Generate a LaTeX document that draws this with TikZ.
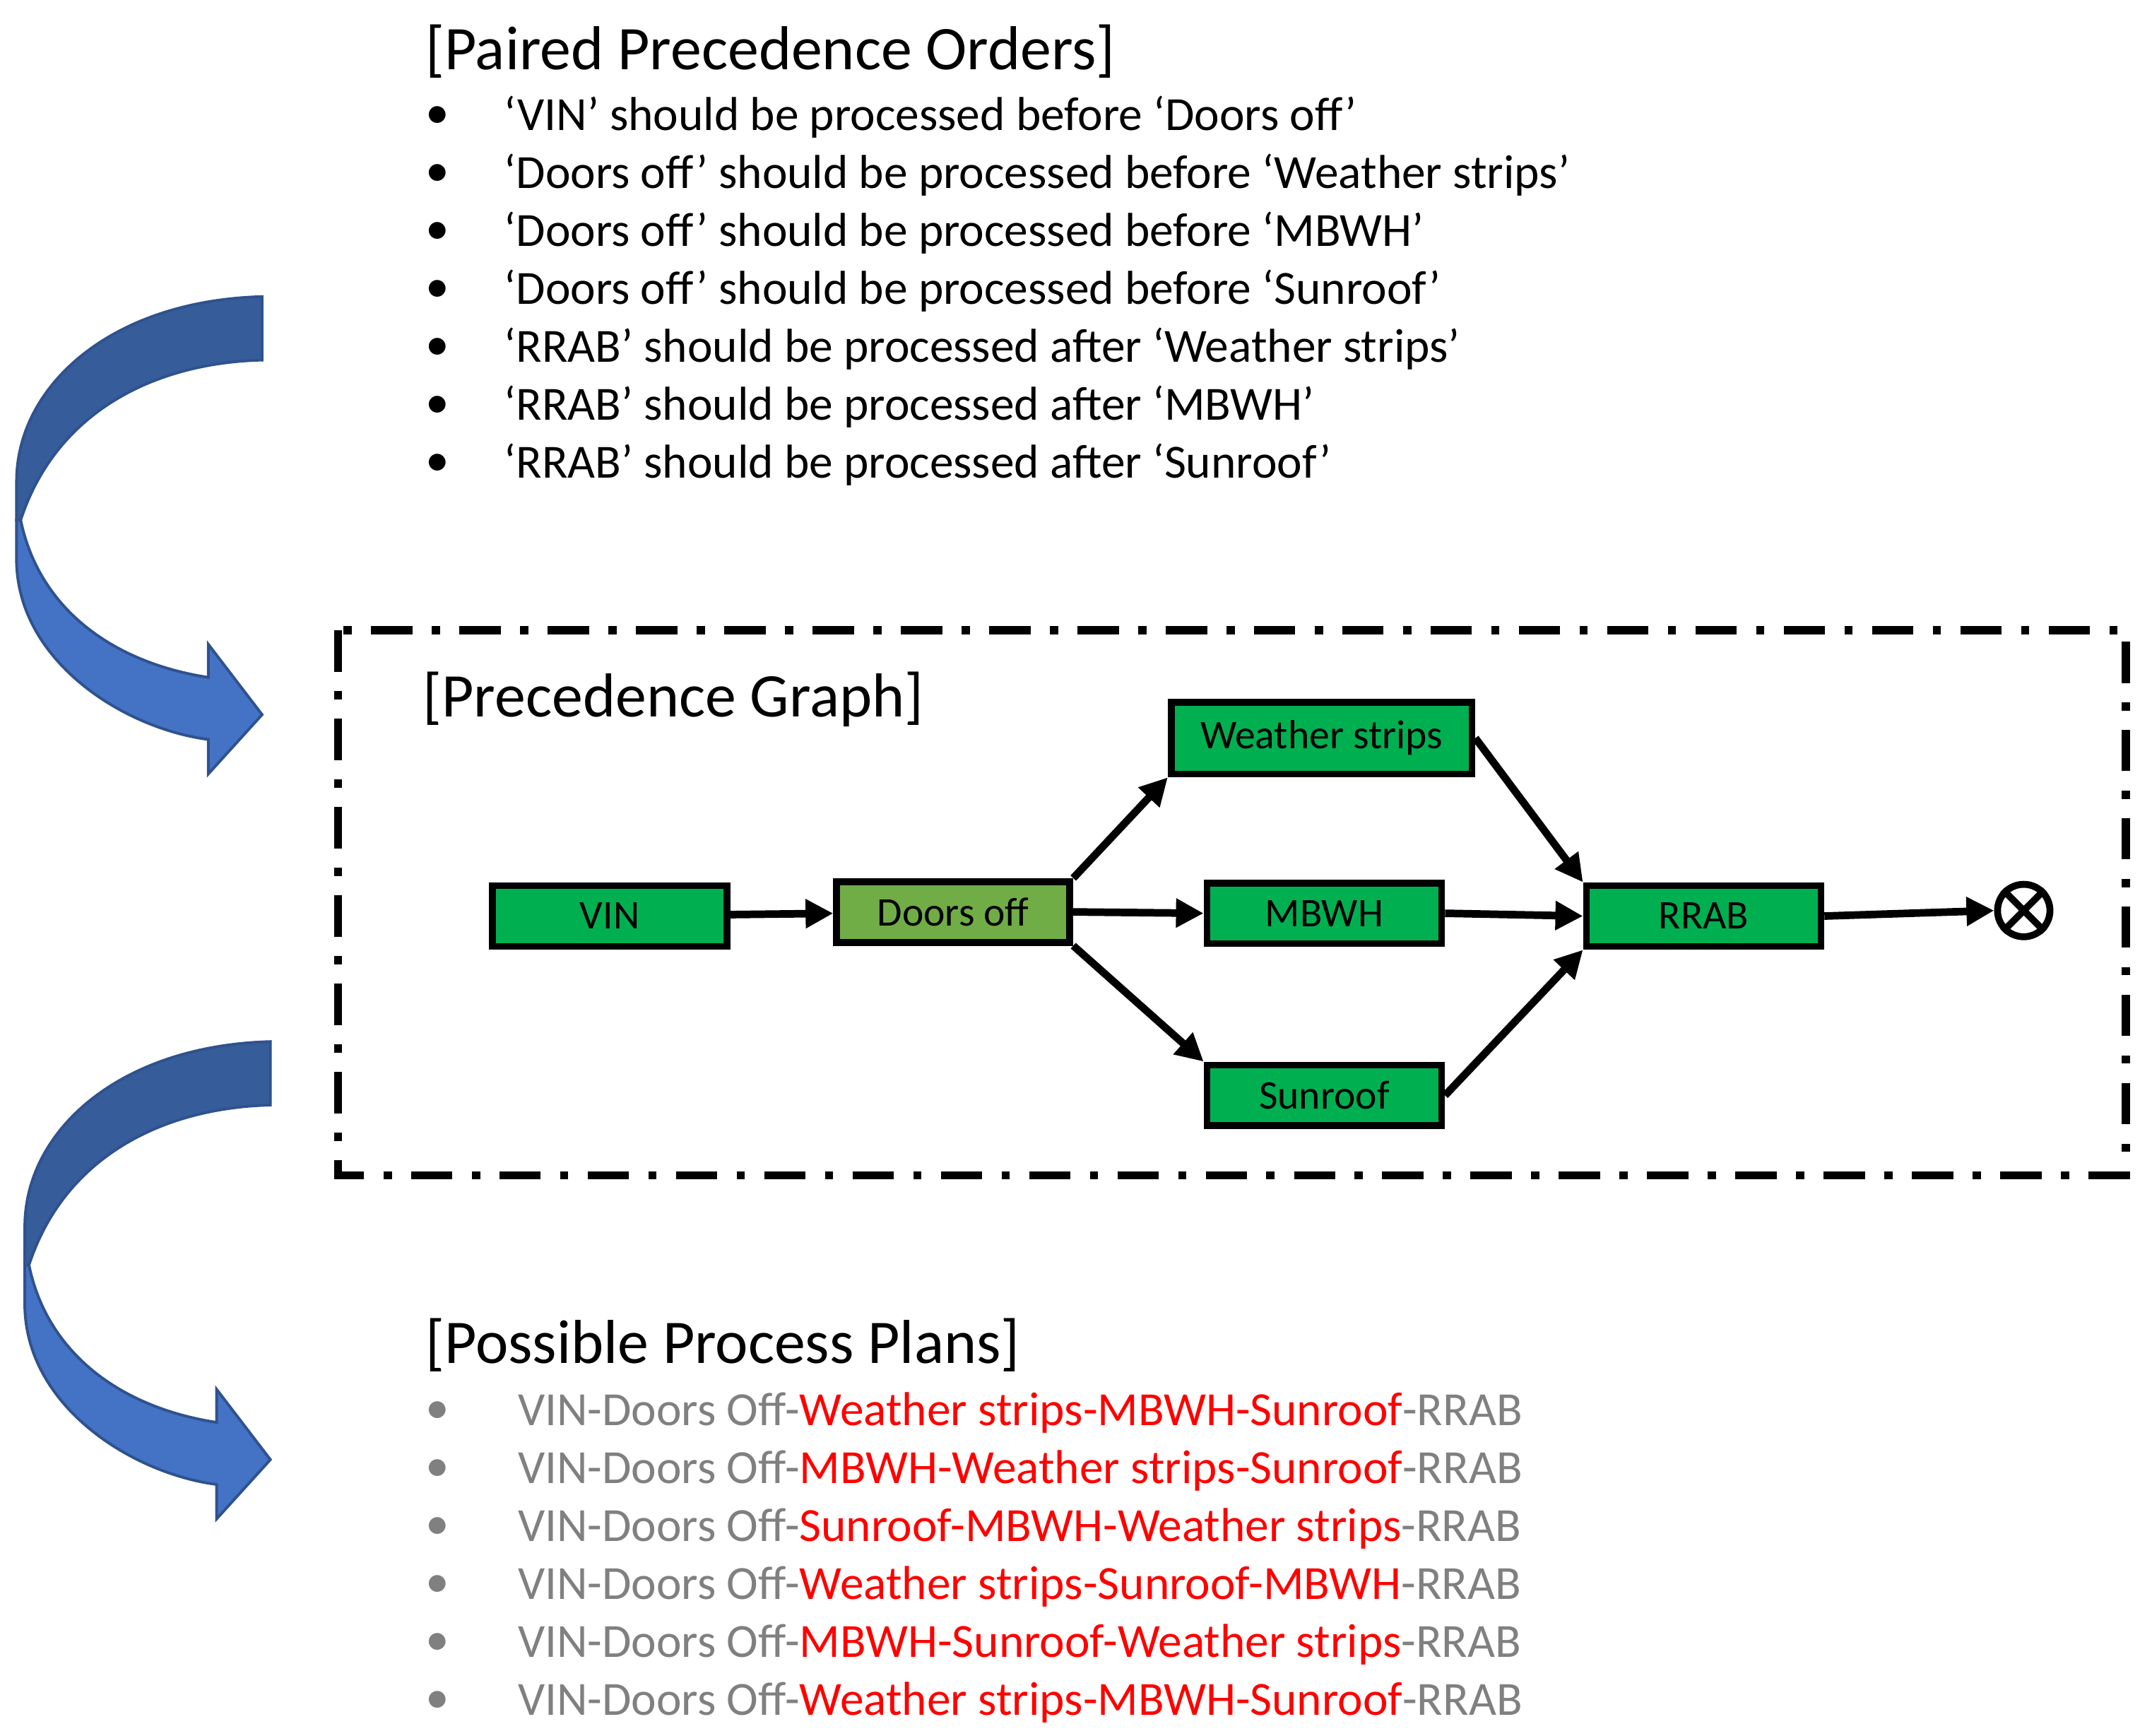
\documentclass[tikz,border=0pt]{standalone}
\usepackage{fontspec}
\setmainfont{Carlito}
\usetikzlibrary{arrows.meta}
\definecolor{gB}{HTML}{00B050}
\definecolor{gD}{HTML}{70AD47}
\definecolor{bD}{HTML}{365C9A}
\definecolor{bL}{HTML}{4472C4}
\definecolor{bE}{HTML}{2F528F}
\definecolor{grT}{HTML}{808080}
\tikzset{
 box/.style={draw=black,line width=5pt,minimum height=44pt,inner sep=0pt,font=\fontsize{29.5}{34}\selectfont},
 edge/.style={line width=5.5pt,-{Triangle[length=20pt,width=20pt]}},
 ttl/.style={anchor=west,font=\fontsize{45}{52}\selectfont},
 itm/.style={anchor=west,font=\fontsize{34.5}{40}\selectfont},
 carrow/.pic={
  \fill[bD,draw=bE,line width=2pt] (190,215) .. controls (80,218) and (12,280) .. (12,349) -- (12,377) -- (15,377) .. controls (40,300) and (110,263) .. (190,261) -- cycle;
  \fill[bL,draw=bE,line width=2pt] (12,377) -- (12,408) .. controls (14,480) and (90,528) .. (151,536) -- (151,561) -- (190,518) -- (151,467) -- (151,491) .. controls (80,480) and (28,440) .. (15,377) -- cycle;
 }
}
\begin{document}
\begin{tikzpicture}[x=1pt,y=-1pt]
\useasboundingbox (0,0) rectangle (1560,1258);
% titles and lists
\node[ttl] (t1) at (305,37) {[Paired Precedence Orders]};
\foreach \i/\s in {0/{‘VIN’ should be processed before ‘Doors off’},
 1/{‘Doors off’ should be processed before ‘Weather strips’},
 2/{‘Doors off’ should be processed before ‘MBWH’},
 3/{‘Doors off’ should be processed before ‘Sunroof’},
 4/{‘RRAB’ should be processed after ‘Weather strips’},
 5/{‘RRAB’ should be processed after ‘MBWH’},
 6/{‘RRAB’ should be processed after ‘Sunroof’}}{
 \node[itm] (b\i) at (305,85+42*\i) {•};
 \node[itm] (p\i) at (362,85+42*\i) {\s};
}
% curved arrows
\pic (ca1) at (0,0) {carrow};
\pic (ca2) at (6,540) {carrow};
% dashed box
\draw[line width=6pt,dash pattern=on 30pt off 14pt on 6pt off 14pt] (245,457) rectangle (1541,852);
\node[ttl] (t2) at (303,507) {[Precedence Graph]};
\node[box,fill=gB,minimum width=170pt] (vin) at (442,664) {VIN};
\node[box,fill=gD,minimum width=169pt] (door) at (691,661) {Doors off};
\node[box,fill=gB,minimum width=218pt,minimum height=52pt] (ws) at (958,535) {Weather strips};
\node[box,fill=gB,minimum width=170pt] (mbwh) at (960,662) {MBWH};
\node[box,fill=gB,minimum width=170pt] (sun) at (960,794) {Sunroof};
\node[box,fill=gB,minimum width=170pt] (rrab) at (1235,664) {RRAB};
\node[circle,draw,line width=5pt,minimum size=38pt,inner sep=0pt] (end) at (1467,660) {};
\draw[line width=5pt] (end.45) -- (end.225) (end.135) -- (end.315);
\draw[edge] (vin) -- (door);
\draw[edge] (door.north east) -- (ws.south west);
\draw[edge] (door.east) -- (mbwh.west);
\draw[edge] (door.south east) -- (sun.north west);
\draw[edge] (ws.east) -- (rrab.north west);
\draw[edge] (mbwh.east) -- (rrab.west);
\draw[edge] (sun.east) -- (rrab.south west);
\draw[edge] (rrab.east) -- (end.west);
% plans
\node[ttl] (t3) at (305,975) {[Possible Process Plans]};
\foreach \i/\s in {0/{Weather strips-MBWH-Sunroof},1/{MBWH-Weather strips-Sunroof},2/{Sunroof-MBWH-Weather strips},3/{Weather strips-Sunroof-MBWH},4/{MBWH-Sunroof-Weather strips},5/{Weather strips-MBWH-Sunroof}}{
 \node[itm,text=grT] (c\i) at (305,1024+42*\i) {•};
 \node[itm,text=grT] (q\i) at (372,1024+42*\i) {VIN-Doors Off-\textcolor{red}{\s}-RRAB};
}
\end{tikzpicture}
\end{document}
